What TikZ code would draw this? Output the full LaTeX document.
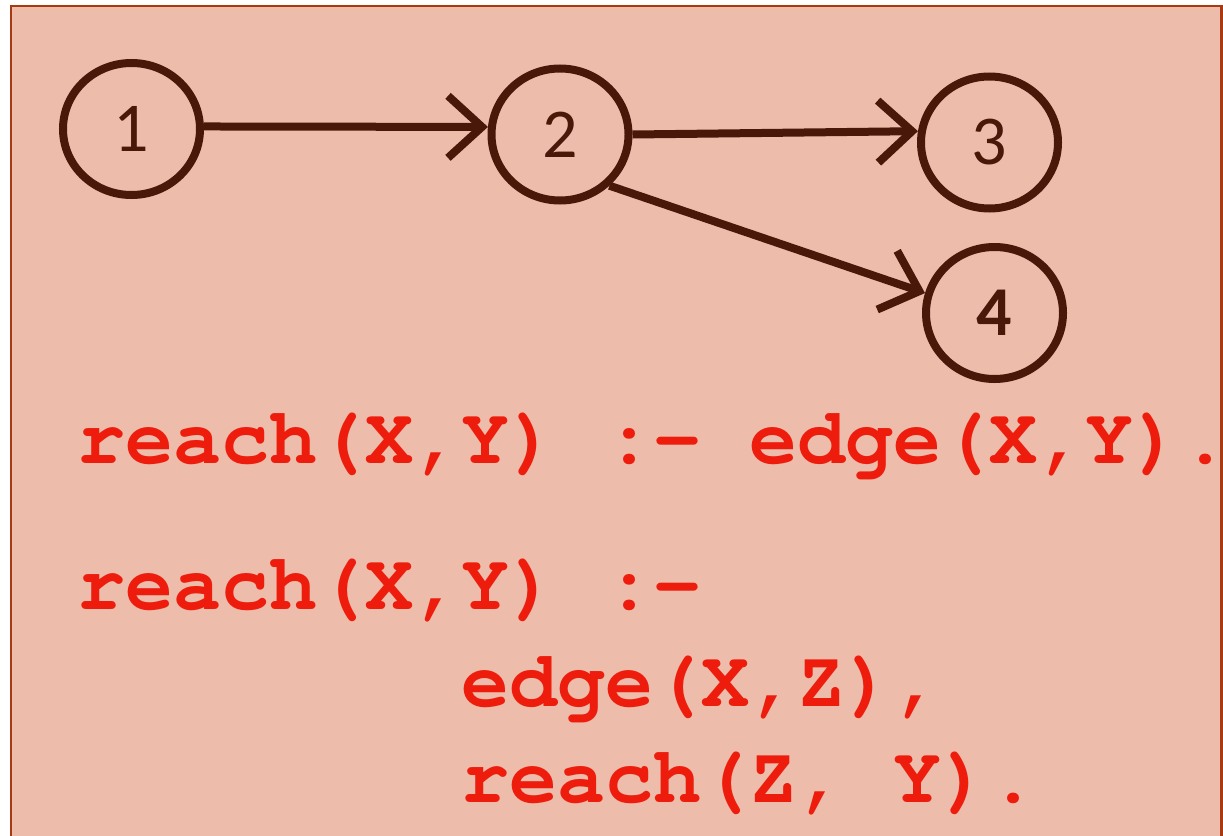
\documentclass[tikz,border=0pt]{standalone}
\usepackage[T1]{fontenc}
\usepackage{fontspec}
\setmonofont{Liberation Mono}
\newfontfamily\numfont{Carlito}
\newcommand\courbold{\fontencoding{T1}\fontfamily{pcr}\fontseries{b}\fontshape{n}\selectfont}
\usetikzlibrary{arrows.meta,shapes.geometric}
\definecolor{bgfill}{RGB}{237,188,170}
\definecolor{framecol}{RGB}{168,58,18}
\definecolor{ink}{RGB}{74,24,8}
\definecolor{codecol}{RGB}{238,28,12}
\begin{document}
\begin{tikzpicture}[x=1pt,y=-1pt,
  vtx/.style={ellipse, draw=ink, line width=8pt, minimum width=137pt, minimum height=132pt,
    inner sep=0pt, text=ink, font=\numfont\fontsize{70}{70}\selectfont},
  arr/.style={draw=ink, line width=8pt, -{Straight Barb[length=34pt,width=62pt]}},
  codeline/.style={anchor=base west, inner sep=0pt, text=codecol,
    font=\courbold\fontsize{80}{96}\selectfont}]
\useasboundingbox (0,0) rectangle (1223,835);
\fill[white] (0,0) rectangle (1223,835);
\draw[draw=framecol, fill=bgfill, line width=2.5pt] (10.8,6) rectangle (1221.5,900);

\node[vtx] (n1) at (131.5,129) {1};
\node[vtx] (n2) at (560,134.5) {2};
\node[vtx] (n3) at (989.5,142.5) {3};
\node[vtx, font=\numfont\bfseries\fontsize{70}{70}\selectfont] (n4) at (994.5,313) {4};

\draw[arr] (n1.2) -- (n2.174);
\draw[arr] (n2.east) -- (n3.171);
\draw[arr] (n2.-46) -- (n4.164);

\node[codeline] (c1) at (77,463) {reach(X,Y) :- edge(X,Y)\rlap{.}};
\node[codeline] (c2) at (77,609) {reach(X,Y) :-};
\node[codeline] (c3) at (461,706) {edge(X,Z),};
\node[codeline] (c4) at (461,802) {reach(Z, Y).};
\end{tikzpicture}
\end{document}
